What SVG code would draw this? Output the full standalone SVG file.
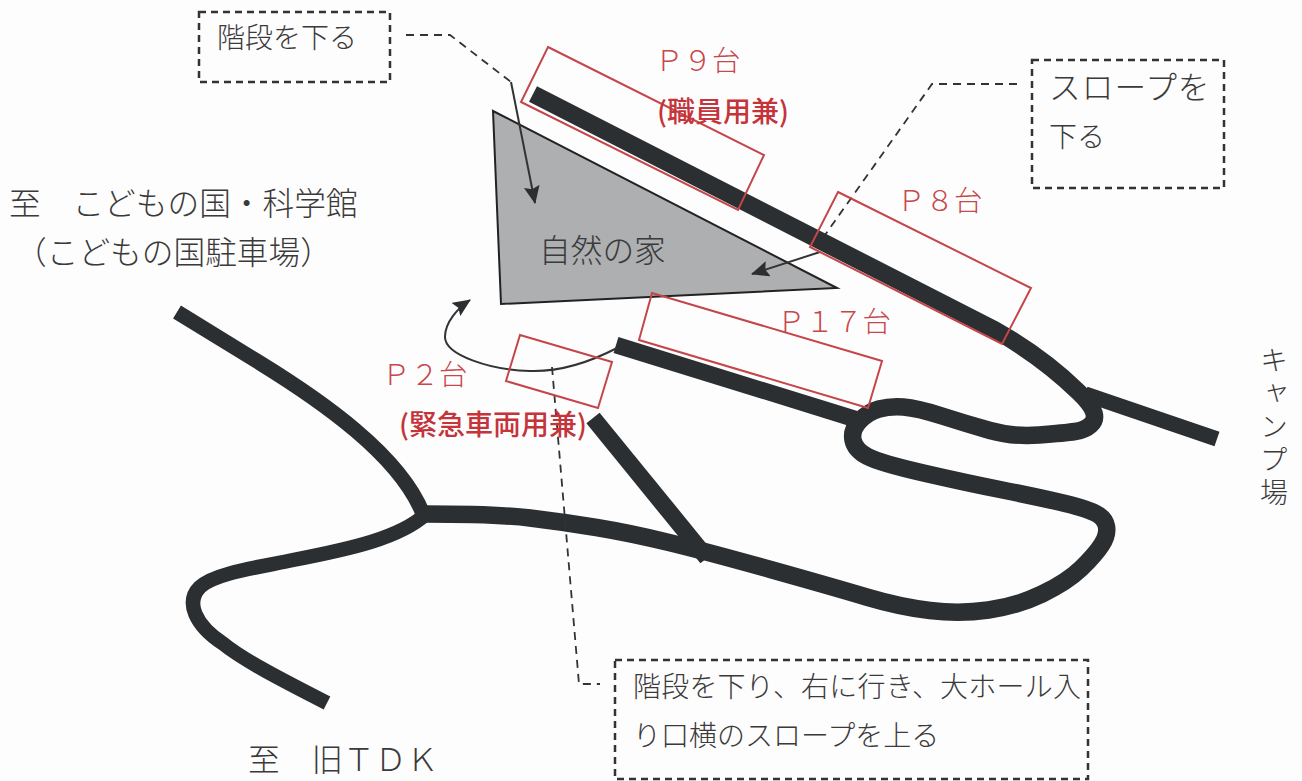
<svg xmlns="http://www.w3.org/2000/svg" width="1302" height="781" viewBox="0 0 1302 781">
<style>
text{font-family:"Noto Sans CJK JP",sans-serif;font-weight:300;fill:#3a3a3a}
.k{font-size:28px}
.l{font-size:31.7px}
.r{font-size:28.5px;fill:#c8474a}
.b{font-size:28px;fill:#c4343a;font-weight:500}
.road{fill:none;stroke:#2b2f31;stroke-linejoin:round}
.p{fill:none;stroke:#c4464a;stroke-width:2}
.box{fill:none;stroke:#333;stroke-width:2.5;stroke-dasharray:7 5}
.d{fill:none;stroke:#333;stroke-width:1.8;stroke-dasharray:8 6}
.a{fill:none;stroke:#333;stroke-width:2}
</style>
<defs><marker id="ah" markerWidth="18" markerHeight="16" refX="17" refY="8" orient="auto" markerUnits="userSpaceOnUse" viewBox="0 0 18 16"><path d="M0 0L18 8L0 16L3 8Z" fill="#2b2f31"/></marker></defs>
<rect width="1302" height="781" fill="#fefdfd"/>
<g id="house"><path d="M493 111L837 288L501 304Z" fill="#adafb1" stroke="#222" stroke-width="2"/><text class="l" x="539" y="262">自然の家</text></g>
<g id="connectors">
<path class="road" stroke-width="17.5" d="M533 94L995 330C1030 350 1058 372 1078.5 392Q1092 405 1094 413Q1096 420 1090.5 425Q1085 430 1075 431.5Q1065 433 1039 435Q1013 437 990 430.5Q967 424 942 416Q917 408 903.5 407Q890 406 879 409Q868 412 859.5 421Q851 430 853 440Q855 450 867.5 456.5Q880 463 923.5 473Q967 483 1000 489.5Q1033 496 1059 502Q1085 508 1095 513Q1105 518 1106.5 526.5Q1108 535 1101.5 545Q1095 555 1081 568.5Q1067 582 1042 594Q1017 606 988.5 610Q960 614 930 610.5Q900 607 866.5 597Q833 587 770.5 569.5Q708 552 669 542.5Q630 533 596.5 527.5Q563 522 530 518Q497 514 425 514"/>
<path class="road" stroke-width="15.5" d="M1085 394L1217 439"/>
<path class="road" stroke-width="16.5" d="M616 345L855 419"/>
<path class="road" stroke-width="17" d="M593 418L707 558"/>
<path class="road" stroke-width="15" d="M177 312L260 363C320 400 400 455 423 514"/>
<path class="road" stroke-width="14.5" d="M426 514C400 538 350 549 293 560C260 567 215 573 200 587C185 602 195 625 223 643.5C243 660 285 681.5 327 703"/>
<path class="a" marker-end="url(#ah)" d="M511 82L535 203"/>
<path class="a" marker-end="url(#ah)" d="M820 252L752 274"/>
<path class="a" marker-end="url(#ah)" d="M617 348C590 362 560 372 530 371C490 370 445 355 445 337C445 322 458 308 470 300"/>
<path class="d" d="M406 35H450L511 82"/>
<path class="d" d="M1017 84H932L825 235"/>
<path class="d" d="M552 367L579 684H600"/>
</g>
<g id="p9"><path class="p" d="M548 47L764 155L738 210L521 102Z"/><text class="r" x="655" y="71">Ｐ９台</text><text class="b" x="657" y="122">(職員用兼)</text></g>
<g id="p8"><path class="p" d="M838 192L1031 288L1002 344L810 247Z"/><text class="r" x="897" y="211">Ｐ８台</text></g>
<g id="p17"><path class="p" d="M652 293L882 361L868 408L639 340Z"/><text class="r" x="777" y="332">Ｐ１７台</text></g>
<g id="p2"><path class="p" d="M520 335L612 362L598 408L506 381Z"/><text class="r" x="382" y="385">Ｐ２台</text><text class="b" x="399" y="435">(緊急車両用兼)</text></g>
<g id="b1"><rect class="box" x="199" y="12" width="191" height="70"/><text class="k" x="217" y="48">階段を下る</text></g>
<g id="b2"><rect class="box" x="1032" y="60" width="192" height="128"/><text class="l" x="1049" y="99" style="letter-spacing:1px">スロープを</text><text class="k" x="1049" y="147">下る</text></g>
<g id="b3"><rect class="box" x="615" y="660" width="473" height="119"/><text class="k" x="633" y="697" style="letter-spacing:.2px">階段を下り、右に行き、大ホール入</text><text class="k" x="633" y="746">り口横のスロープを上る</text></g>
<g id="labels">
<text class="l" x="9" y="215">至　こどもの国・科学館</text>
<text class="l" x="15" y="264">（こどもの国駐車場）</text>
<text class="l" x="248" y="771">至　旧ＴＤＫ</text>
<text class="k" x="1274" y="346" style="writing-mode:vertical-rl;letter-spacing:5px">キャンプ場</text>
</g>
</svg>
